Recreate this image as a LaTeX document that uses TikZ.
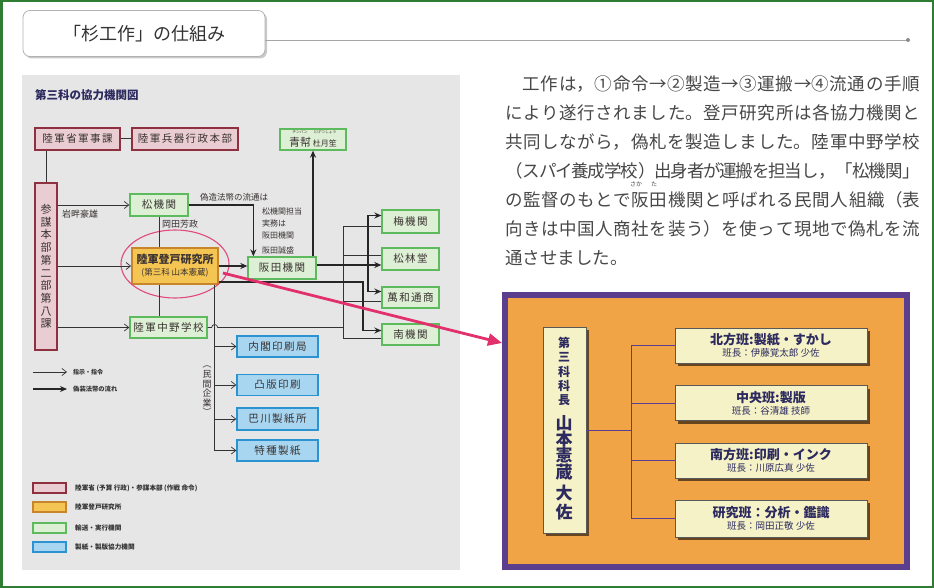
\documentclass[tikz,border=0pt]{standalone}
\usepackage{fontspec}
\usetikzlibrary{arrows.meta,shadows}

\newfontfamily\jp{Noto Sans CJK JP}
\newfontfamily\jpls[LetterSpace=14]{Noto Sans CJK JP}
\newcommand\jsize[2]{\fontsize{#1}{#2}\selectfont}

\definecolor{framegreen}{HTML}{2E7D32}
\definecolor{panelgray}{HTML}{E6E6E6}
\definecolor{pinkedge}{HTML}{8E3040}
\definecolor{pinkfill}{HTML}{E9CDD2}
\definecolor{greenedge}{HTML}{5DBB5D}
\definecolor{greenfill}{HTML}{DDEFD4}
\definecolor{blueedge}{HTML}{2C93D2}
\definecolor{bluefill}{HTML}{A8D6F0}
\definecolor{orangeedge}{HTML}{C9852B}
\definecolor{orangefill}{HTML}{F4C552}
\definecolor{ringred}{HTML}{E04A7C}
\definecolor{magarrow}{HTML}{E2306C}
\definecolor{panelpurple}{HTML}{5B3F8E}
\definecolor{panelorange}{HTML}{F0A446}
\definecolor{cream}{HTML}{F5F2C8}
\definecolor{navytext}{HTML}{2C2A5E}
\definecolor{inktext}{HTML}{3A3232}

\tikzset{
  titlebox/.style={draw=black!30, fill=white, rounded corners=7pt, line width=.8pt,
    minimum width=242pt, minimum height=46pt, font=\jp\jsize{18}{20}, text=black!80,
    drop shadow={shadow xshift=2pt, shadow yshift=-2pt, fill=black!35, opacity=.6}},
  orgbox/.style={line width=1.3pt, inner sep=0pt, text=inktext, font=\jpls\jsize{10.5}{12}},
  pinkbox/.style={orgbox, draw=pinkedge, fill=pinkfill},
  greenbox/.style={orgbox, draw=greenedge, fill=greenfill, minimum width=57pt, minimum height=22pt},
  bluebox/.style={orgbox, draw=blueedge, fill=bluefill, minimum width=81pt, minimum height=21pt},
  labbox/.style={draw=orangeedge, fill=orangefill, line width=1.8pt, inner sep=0pt,
    text=inktext, align=center, font=\jp},
  note/.style={font=\jp\jsize{8}{9.5}, text=inktext, inner sep=0pt, anchor=west},
  legtext/.style={font=\jp\bfseries\jsize{6.6}{7}, text=black!80, inner sep=0pt, anchor=west},
  thinline/.style={draw=black!80, line width=0.7pt},
  thinarr/.style={thinline, -{Straight Barb[length=4.5pt,width=7pt]}},
  thickarr/.style={draw=black!85, line width=1.6pt, -{Stealth[length=7pt,width=6pt]}},
  magarr/.style={draw=magarrow, line width=2.8pt, -{Triangle[length=14pt,width=12pt]}},
  creambox/.style={draw=black!65, fill=cream, line width=.5pt, inner sep=0pt, align=center,
    text=navytext, drop shadow={shadow xshift=3pt, shadow yshift=-3pt, fill=black!70!brown, opacity=.75}},
  teambox/.style={creambox, minimum width=192pt, minimum height=35pt, font=\jp},
  vtext/.style={inner sep=0pt, align=center, text=navytext},
  treeline/.style={draw=panelpurple, line width=0.9pt},
}

\begin{document}
\begin{tikzpicture}[x=1pt,y=-1pt]
\useasboundingbox (0,0) rectangle (934,588);
% fondo e cornice verde
\fill[white] (0,0) rectangle (934,588);
\draw[framegreen, line width=2.5pt] (1.25,1.25) rectangle (932.75,586.75);

% titolo
\node[titlebox] (title) at (144,33.5) {「杉工作」の仕組み};
\draw[black!35, line width=0.9pt] (title.east |- 0,40) -- (908,40) coordinate (titleend);
\fill[black!45] (titleend) circle (2pt);

% pannello di sinistra
\fill[panelgray] (22,75) rectangle (460,570);
\node[anchor=west, font=\jp\bfseries\jsize{11.5}{12}, text=navytext, inner sep=0pt] (zutitle) at (35,95) {第三科の協力機関図};

% 陸軍省・参謀本部
\node[pinkbox, minimum width=85pt, minimum height=22pt] (gunji) at (77.5,139) {陸軍省軍事課};
\node[pinkbox, minimum width=106pt, minimum height=22pt] (heiki) at (185,139) {陸軍兵器行政本部};
\node[pinkbox, minimum width=22pt, minimum height=167pt, align=center, font=\jp\jsize{11}{12.7}] (sanbo) at (46,266.5) {参\\謀\\本\\部\\第\\二\\部\\第\\八\\課};
\draw[thinline, line width=1pt] (gunji.east) -- (heiki.west);
\draw[thinline, line width=1pt] (gunji.south -| sanbo) -- (sanbo.north);

% 登戸研究所 e cerchio rosso
\node[labbox, minimum width=86pt, minimum height=36pt] (noborito) at (175,266) {{\bfseries\jsize{11}{13}陸軍登戸研究所}\\{\jsize{8.5}{11}(第三科 山本憲蔵)}};
\draw[ringred, line width=1.1pt] (175,264) ellipse [x radius=54pt, y radius=34pt];

% organi verdi
\node[greenbox, minimum width=58pt] (matsu) at (159,205) {松機関};
\node[greenbox, minimum width=77pt, minimum height=21pt] (nakano) at (168.5,327.5) {陸軍中野学校};
\node[greenbox, minimum width=68pt] (sakata) at (282,268) {阪田機関};
\node[greenbox, minimum width=66pt, minimum height=21pt] (chinpan) at (313,139.5) {};
\node[inner sep=0pt, text=inktext, font=\jp] (chinpantxt) at (313,142) {{\jsize{11}{12}青幇}\,{\jsize{8}{9}杜月笙}};
\node[inner sep=0pt, text=inktext, font=\jp\jsize{3.8}{4}] (rubya) at (300,132.5) {チンパン};
\node[inner sep=0pt, text=inktext, font=\jp\jsize{3.8}{4}] (rubyb) at (325,132.5) {とげつしょう};
\node[greenbox, minimum height=23pt] (ume) at (410.5,221.5) {梅機関};
\node[greenbox] (shorin) at (410.5,259) {松林堂};
\node[greenbox, minimum height=21pt] (banwa) at (410.5,297.5) {萬和通商};
\node[greenbox, minimum height=21pt] (minami) at (410.5,334.5) {南機関};

% organi blu
\node[bluebox] (naikaku) at (277.5,346.5) {内閣印刷局};
\node[bluebox] (toppan) at (277.5,385) {凸版印刷};
\node[bluebox, minimum height=22pt] (tomoe) at (277.5,419) {巴川製紙所};
\node[bluebox] (tokushu) at (277.5,450.5) {特種製紙};
\node[inner sep=0pt, align=center, text=inktext, font=\jp\jsize{9}{9.6}] (minkan) at (207,391) {︵\\民\\間\\企\\業\\︶};

% scritte accanto alle linee
\node[note, font=\jp\jsize{9}{10}] (iwakuro) at (62,214) {岩畔豪雄};
\node[note, font=\jp\jsize{9}{10}] (okada) at (162,224) {岡田芳政};
\node[note, font=\jp\jsize{8.5}{10}] (gizo) at (200,197) {偽造法幣の流通は};
\node[note] (tanto) at (262,211) {松機関担当};
\node[note] (jitsumu) at (262,223) {実務は};
\node[note] (sakatanote) at (262,235) {阪田機関};
\node[note] (seimori) at (262,250) {阪田誠盛};

% frecce sottili (指示・指令)
\draw[thinarr] (sanbo.east |- matsu) -- (matsu.west);
\draw[thinarr] (sanbo.east |- noborito) -- (noborito.west);
\draw[thinarr] (sanbo.east |- nakano) -- (nakano.west);
\draw[thinline, line width=1pt] (matsu.south) -- (noborito.north -| matsu);
\draw[thinline, line width=1pt] (noborito.south -| matsu) -- (nakano.north -| matsu);
\coordinate (mk) at (214,300);
\draw[thinline] (noborito.south -| mk) -- (tokushu -| mk);
\foreach \b in {naikaku,toppan,tomoe,tokushu}
  \draw[thinarr] (\b -| mk) -- (\b.west);
\coordinate (sx) at (343,0);
\draw[thinline] (nakano.east) -- ++(4,0) arc[start angle=180, end angle=0, radius=3pt] -- (nakano.east -| sx);
\draw[thinline] ([yshift=-5pt]ume.west -| sx) -- ([yshift=-4pt]minami.west -| sx);
\foreach \k/\s in {ume/-5pt, shorin/4pt, banwa/-4pt, minami/-4pt}
  \draw[thinline] ([yshift=\s]\k.west -| sx) -- ([yshift=\s]\k.west);

% frecce spesse (偽装法幣の流れ)
\draw[thickarr] (matsu.east) -| ([xshift=6pt]sakata.north west);
\draw[thickarr] (sakata.north -| chinpan) -- (chinpan.south);
\draw[thickarr] (noborito.east) -- (noborito.east -| sakata.west);
\draw[thickarr] ([yshift=3pt]sakata.east) -- ([yshift=3pt]sakata.east -| shorin.west);
\coordinate (bus) at (368,265);
\draw[thickarr] (bus) |- ([yshift=6pt]ume.west);
\draw[thickarr] (bus) |- ([yshift=6pt]banwa.west);
\draw[thickarr] ([yshift=-16pt]noborito.east) -- ++(144,0) |- ([yshift=4pt]minami.west);

% legenda frecce
\node[legtext, font=\jp\bfseries\jsize{6}{7}] (lgthin) at (73,372) {指示・指令};
\node[legtext, font=\jp\bfseries\jsize{6.3}{7}] (lgthick) at (73,389) {偽装法幣の流れ};
\draw[thinarr] (33,372) -- ([xshift=-6pt]lgthin.west);
\draw[thickarr] (33,389) -- ([xshift=-6pt]lgthick.west);

% legenda colori
\node[pinkbox, minimum width=33pt, minimum height=10pt] (lgpink) at (49.5,488) {};
\node[labbox, line width=1.3pt, minimum width=33pt, minimum height=10pt] (lgorange) at (49.5,507) {};
\node[greenbox, minimum width=33pt, minimum height=10pt] (lggreen) at (49.5,528) {};
\node[bluebox, minimum width=33pt, minimum height=10pt] (lgblue) at (49.5,547) {};
\node[legtext] (lgpinktxt) at (75,488) {陸軍省 (予算 行政)・参謀本部 (作戦 命令)};
\node[legtext] (lgorangetxt) at (75,507) {陸軍登戸研究所};
\node[legtext] (lggreentxt) at (75,528) {輸送・実行機関};
\node[legtext] (lgbluetxt) at (75,547) {製紙・製版協力機関};

% testo di destra
\node[anchor=north west, text width=415pt, inner sep=0pt, align=justify, text=black!72,
  font=\jp\jsize{17.5}{29}] (para) at (505,75.6) {\XeTeXlinebreaklocale "ja"\XeTeXlinebreakskip=0pt plus 2pt minus 1.6pt\noindent\hspace*{17.5pt}工作は，①命令→②製造→③運搬→④流通の手順\linebreak
により遂行されました。登戸研究所は各協力機関と\linebreak
共同しながら，偽札を製造しました。陸軍中野学校\linebreak
（スパイ養成学校）出身者が運搬を担当し，「松機関」\linebreak
の監督のもとで阪田機関と呼ばれる民間人組織（表\linebreak
向きは中国人商社を装う）を使って現地で偽札を流\linebreak
通させました。};
\node[inner sep=0pt, text=black!72, font=\jp\jsize{6}{6.5}] (rubysaka) at (636,184) {さか};
\node[inner sep=0pt, text=black!72, font=\jp\jsize{6}{6.5}] (rubyta) at (654,184) {た};

% pannello arancione
\node[draw=panelpurple, line width=6pt, fill=panelorange, minimum width=402pt, minimum height=272pt, inner sep=0pt] (panel) at (706,431) {};
\draw[magarr] ([shift={(4,7)}]noborito.east) -- (panel.west |- 0,343);

% 第三科科長
\node[creambox, minimum width=43pt, minimum height=206pt] (leader) at (564.5,430) {};
\node[vtext, font=\jp\bfseries\jsize{12}{14.25}] (kachotxt) at (564,371.5) {第\\三\\科\\科\\長};
\node[vtext, font=\jp\bfseries\jsize{17}{16.4}] (yamamoto) at (564,447.5) {山\\本\\憲\\蔵};
\node[vtext, font=\jp\bfseries\jsize{17}{19}] (taisa) at (564,502.5) {大\\佐};

% quattro sezioni
\node[teambox] (hoppo) at (771,345.5) {{\bfseries\jsize{13}{15}北方班:製紙・すかし}\\{\jsize{9.5}{11}班長：伊藤覚太郎 少佐}};
\node[teambox] (chuo) at (771,403) {{\bfseries\jsize{13}{15}中央班:製版}\\{\jsize{9.5}{11}班長：谷清雄 技師}};
\node[teambox] (nanpo) at (771,460.5) {{\bfseries\jsize{13}{15}南方班:印刷・インク}\\{\jsize{9.5}{11}班長：川原広真 少佐}};
\node[teambox, minimum height=37pt] (kenkyu) at (771,518.5) {{\bfseries\jsize{13}{15}研究班：分析・鑑識}\\{\jsize{9.5}{11}班長：岡田正敬 少佐}};
\draw[treeline] (leader.east) -- ++(45,0) coordinate (tj);
\draw[treeline] (tj |- hoppo) -- (tj |- kenkyu);
\foreach \t in {hoppo,chuo,nanpo,kenkyu}
  \draw[treeline] (tj |- \t) -- (\t.west);
\end{tikzpicture}
\end{document}
